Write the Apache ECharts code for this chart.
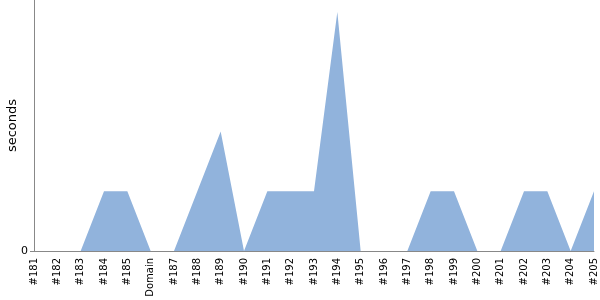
<!DOCTYPE html>
<html><head><meta charset="utf-8">
<script src="https://cdn.jsdelivr.net/npm/echarts@6/dist/echarts.min.js"></script>
<style>html,body{margin:0;padding:0;background:#fff}#c{width:600px;height:300px}</style>
</head><body><div id="c"></div>
<script>
const categories = ['#181','#182','#183','#184','#185','Domain','#187','#188','#189','#190','#191','#192','#193','#194','#195','#196','#197','#198','#199','#200','#201','#202','#203','#204','#205'];
const seconds = [0,0,0,1,1,0,0,1,2,0,1,1,1,4,0,0,0,1,1,0,0,1,1,0,1];
const yTicks = [0];
const chart = echarts.init(document.getElementById('c'));
chart.setOption({
  animation:false,
  grid:{left:34,right:6,top:0,bottom:49,containLabel:false,outerBoundsMode:'none'},
  xAxis:{type:'category',data:categories,boundaryGap:false,
    axisLine:{lineStyle:{color:'#888',width:1}},axisTick:{show:false},
    axisLabel:{rotate:90,interval:0,color:'#000',fontFamily:'DejaVu Sans',fontSize:10,margin:7}},
  yAxis:{type:'value',min:0,max:4.2,name:'seconds',nameLocation:'middle',nameGap:15,nameMoveOverlap:false,
    nameTextStyle:{color:'#000',fontFamily:'DejaVu Sans',fontSize:13},
    axisLine:{show:true,lineStyle:{color:'#888'}},
    axisTick:{show:true,length:4,lineStyle:{color:'#888'},customValues:yTicks},
    splitLine:{show:false},
    axisLabel:{color:'#000',fontFamily:'DejaVu Sans',fontSize:11,margin:6,customValues:yTicks}},
  series:[{type:'line',data:seconds,symbol:'none',lineStyle:{width:0},
    areaStyle:{color:'#91b3dc',opacity:1}}]
});
</script></body></html>
